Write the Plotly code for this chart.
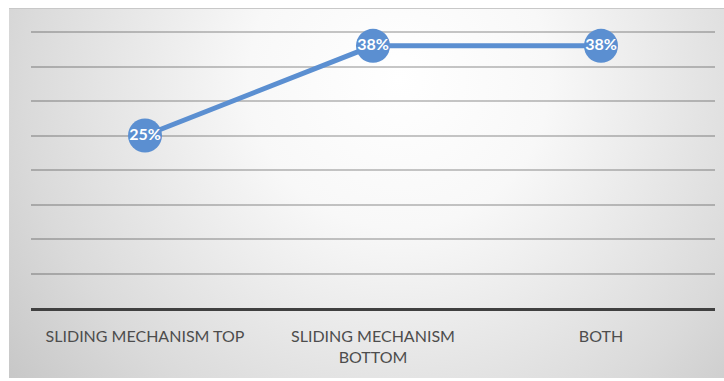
import base64
import plotly.graph_objects as go

# Share of responses per location
categories = ["SLIDING MECHANISM TOP", "SLIDING MECHANISM<br>BOTTOM", "BOTH"]
shares = [25, 38, 38]
y_ticks = [0, 5, 10, 15, 20, 25, 30, 35, 40]
y_max = 40.3

line_color = "#5b8fd1"

# Soft radial shading for the chart area
svg = """<svg xmlns='http://www.w3.org/2000/svg' width='715' height='370' viewBox='0 0 715 370' preserveAspectRatio='none'>
<defs>
<radialGradient id='g' gradientUnits='userSpaceOnUse' cx='390' cy='70' r='500'
 gradientTransform='translate(390 70) scale(1 1.0) translate(-390 -70)'>
<stop offset='0' stop-color='#ffffff'/>
<stop offset='0.3' stop-color='#f8f8f8'/>
<stop offset='0.75' stop-color='#dadada'/>
<stop offset='1' stop-color='#c6c6c6'/>
</radialGradient>
</defs>
<rect x='0' y='0' width='715' height='370' fill='url(#g)'/>
<line x1='0' y1='0.5' x2='715' y2='0.5' stroke='#c8c8c8' stroke-width='1'/>
</svg>"""
bg_uri = "data:image/svg+xml;base64," + base64.b64encode(svg.encode()).decode()

fig = go.Figure()
fig.add_trace(go.Scatter(
    x=categories,
    y=shares,
    mode="lines+markers+text",
    line=dict(color=line_color, width=5),
    marker=dict(size=34, color=line_color),
    text=[f"<b>{v}%</b>" for v in shares],
    textposition="middle center",
    textfont=dict(family="Lato", size=16, color="white"),
    hoverinfo="skip",
    showlegend=False,
    cliponaxis=False,
))

W, H = 724, 381
ml, mr, mt, mb = 31, 9, 30, 73
pw, ph = W - ml - mr, H - mt - mb
x0, x1 = 9, 724
y0, y1 = 8, 378

fig.add_layout_image(
    source=bg_uri,
    xref="paper", yref="paper",
    x=(x0 - ml) / pw, y=(H - mb - y0) / ph,
    sizex=(x1 - x0) / pw, sizey=(y1 - y0) / ph,
    xanchor="left", yanchor="top",
    sizing="stretch", layer="below",
)

fig.update_layout(
    width=W, height=H,
    margin=dict(l=ml, r=mr, t=mt, b=mb),
    paper_bgcolor="white",
    plot_bgcolor="rgba(0,0,0,0)",
    font=dict(family="Lato", color="#4d4d4d"),
    xaxis=dict(
        type="category",
        range=[-0.5, 2.5],
        showgrid=False,
        showline=True,
        linecolor="#404040",
        linewidth=3,
        ticks="",
        ticklabelstandoff=12,
        tickfont=dict(family="Lato", size=16, color="#4d4d4d"),
        fixedrange=True,
    ),
    yaxis=dict(
        range=[0, y_max],
        tickvals=y_ticks,
        showticklabels=False,
        showgrid=True,
        gridcolor="rgba(0,0,0,0.22)",
        gridwidth=1.5,
        zeroline=False,
        fixedrange=True,
    ),
)

fig.write_html("out.html")
